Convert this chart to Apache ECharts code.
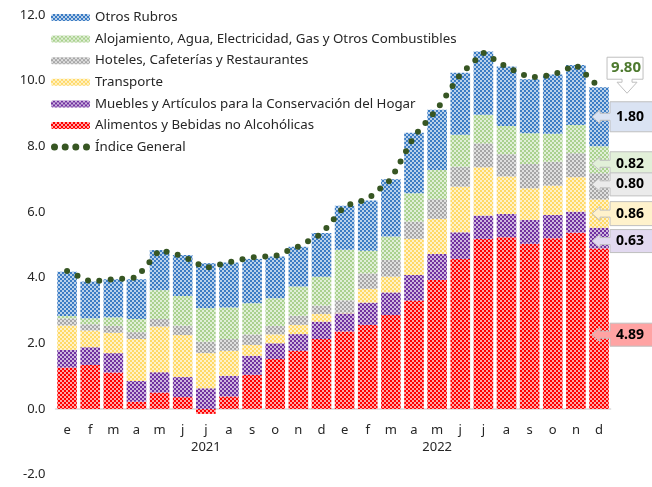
<!DOCTYPE html>
<html>
<head>
<meta charset="utf-8">
<script src="https://cdn.jsdelivr.net/npm/echarts@6/dist/echarts.min.js"></script>
<style>
html, body { margin: 0; padding: 0; background: #fff; }
#chart { width: 652px; height: 487px; }
</style>
</head>
<body>
<div id="chart"></div>
<script>
var meses = ['e', 'f', 'm', 'a', 'm', 'j', 'j', 'a', 's', 'o', 'n', 'd',
             'e', 'f', 'm', 'a', 'm', 'j', 'j', 'a', 's', 'o', 'n', 'd'];
var anios = { 6: '2021', 16: '2022' };
var yTicks = [-2, 0, 2, 4, 6, 8, 10, 12];

var alimentos = [1.26, 1.34, 1.11, 0.22, 0.50, 0.36, -0.15, 0.38, 1.04, 1.52, 1.77, 2.13,
                 2.36, 2.56, 2.86, 3.30, 3.93, 4.57, 5.18, 5.23, 5.03, 5.20, 5.37, 4.89];
var muebles = [0.54, 0.54, 0.59, 0.63, 0.62, 0.61, 0.63, 0.63, 0.58, 0.48, 0.51, 0.53,
               0.55, 0.68, 0.69, 0.78, 0.79, 0.81, 0.71, 0.71, 0.73, 0.71, 0.64, 0.63];
var transporte = [0.74, 0.51, 0.62, 1.28, 1.39, 1.28, 1.07, 0.76, 0.33, 0.27, 0.28, 0.23,
                  0.02, 0.42, 0.48, 1.10, 1.07, 1.39, 1.47, 1.14, 0.96, 0.89, 1.05, 0.86];
var hoteles = [0.22, 0.19, 0.21, 0.21, 0.23, 0.29, 0.35, 0.36, 0.32, 0.26, 0.28, 0.26,
               0.38, 0.47, 0.51, 0.53, 0.60, 0.61, 0.73, 0.68, 0.74, 0.73, 0.73, 0.80];
var alojamiento = [0.07, 0.18, 0.26, 0.40, 0.88, 0.90, 1.02, 0.96, 0.95, 0.84, 0.89, 0.88,
                   1.54, 0.69, 0.71, 0.86, 0.89, 0.97, 0.87, 0.86, 0.94, 0.85, 0.86, 0.82];
var otros = [1.35, 1.12, 1.16, 1.21, 1.22, 1.25, 1.37, 1.37, 1.35, 1.27, 1.21, 1.33,
             1.34, 1.53, 1.75, 1.84, 1.83, 1.89, 1.93, 1.81, 1.64, 1.81, 1.83, 1.80];
var indice = [4.20, 3.88, 3.95, 4.00, 4.84, 4.66, 4.29, 4.47, 4.62, 4.66, 4.95, 5.33,
              6.18, 6.39, 6.99, 8.30, 9.13, 10.19, 10.85, 10.42, 10.09, 10.17, 10.48, 9.80];

var fuente = "'Noto Sans', sans-serif";

// relleno a cuadros como en Excel
function cuadros(color) {
    var c = document.createElement('canvas');
    c.width = 4; c.height = 4;
    var ctx = c.getContext('2d');
    ctx.fillStyle = color;
    ctx.fillRect(0, 0, 4, 4);
    ctx.fillStyle = 'rgba(255,255,255,0.65)';
    ctx.fillRect(0, 0, 2, 2);
    ctx.fillRect(2, 2, 2, 2);
    return { image: c, repeat: 'repeat' };
}

function barra(nombre, datos, color) {
    return {
        name: nombre,
        type: 'bar',
        stack: 'total',
        barCategoryGap: '15%',
        data: datos,
        itemStyle: { color: cuadros(color) }
    };
}

var puntos = 'path://M0,3.5a3.5,3.5 0 1,0 7,0a3.5,3.5 0 1,0 -7,0z' +
    'M10.7,3.5a3.5,3.5 0 1,0 7,0a3.5,3.5 0 1,0 -7,0z' +
    'M21.3,3.5a3.5,3.5 0 1,0 7,0a3.5,3.5 0 1,0 -7,0z' +
    'M32,3.5a3.5,3.5 0 1,0 7,0a3.5,3.5 0 1,0 -7,0z';

var gTop = 15, gBottom = 12.4;
// el eje de categorías va sobre el cero: lo subimos desde el borde inferior
var alto = 487 - gTop - gBottom;
var subida = alto * (0 - yTicks[0]) / (yTicks[yTicks.length - 1] - yTicks[0]);

var myChart = echarts.init(document.getElementById('chart'));
myChart.setOption({
    animation: false,
    grid: { left: 55.5, right: 41.4, top: gTop, bottom: gBottom, outerBoundsMode: 'none', containLabel: false },
    legend: {
        orient: 'vertical',
        left: 46,
        top: 6,
        itemWidth: 39,
        itemHeight: 7,
        itemGap: 8.6,
        textStyle: { fontSize: 13.3, color: '#262626', fontFamily: fuente },
        data: ['Otros Rubros',
               'Alojamiento, Agua, Electricidad, Gas y Otros Combustibles',
               'Hoteles, Cafeterías y Restaurantes',
               'Transporte',
               'Muebles y Artículos para la Conservación del Hogar',
               'Alimentos y Bebidas no Alcohólicas',
               { name: 'Índice General', icon: puntos }]
    },
    xAxis: {
        type: 'category',
        data: meses,
        position: 'bottom',
        offset: -subida,
        axisTick: { show: false },
        axisLine: { onZero: false, lineStyle: { color: '#d9d9d9', width: 1.5 } },
        axisLabel: {
            interval: 0,
            margin: 12.5,
            fontSize: 13,
            lineHeight: 17,
            color: '#262626',
            fontFamily: fuente,
            formatter: function (v, i) { return anios[i] ? v + '\n' + anios[i] : v; }
        }
    },
    yAxis: {
        type: 'value',
        min: yTicks[0],
        max: yTicks[yTicks.length - 1],
        interval: 2,
        splitLine: { show: false },
        axisLine: { show: false },
        axisTick: { show: false },
        axisLabel: {
            margin: 10,
            fontSize: 13,
            color: '#262626',
            fontFamily: fuente,
            formatter: function (v) { return v.toFixed(1); }
        }
    },
    series: [
        barra('Alimentos y Bebidas no Alcohólicas', alimentos, '#ff0000'),
        barra('Muebles y Artículos para la Conservación del Hogar', muebles, '#7030a0'),
        barra('Transporte', transporte, '#ffd966'),
        barra('Hoteles, Cafeterías y Restaurantes', hoteles, '#a6a6a6'),
        barra('Alojamiento, Agua, Electricidad, Gas y Otros Combustibles', alojamiento, '#a9d18e'),
        barra('Otros Rubros', otros, '#3b7cc4'),
        {
            name: 'Índice General',
            type: 'line',
            data: indice,
            symbol: 'none',
            z: 10,
            lineStyle: { color: '#375623', width: 6, type: [0, 11.5], cap: 'round' },
            itemStyle: { color: '#375623' }
        }
    ]
});

// llamadas de dato para diciembre 2022
var ult = meses.length - 1;
function px(v) { return myChart.convertToPixel({ xAxisIndex: 0, yAxisIndex: 0 }, [ult, v]); }

var llamadas = [
    { datos: alimentos, fill: '#ffa3a3', dy: 6, h: 23 },
    { datos: muebles, fill: '#e2d9f0', dy: 3, h: 23 },
    { datos: transporte, fill: '#fff2cc', dy: 0, h: 24 },
    { datos: alojamiento, fill: '#e2f0d9', dy: 4, h: 24 },
    { datos: hoteles, fill: '#ebebeb', dy: -2, h: 23 },
    { datos: otros, fill: '#dae3f3', dy: 0, h: 30 }
];
var base = 0, centros = [];
[alimentos, muebles, transporte, hoteles, alojamiento, otros].forEach(function (s) {
    var v = s[ult];
    centros.push(base + v / 2);
    base += v;
});
var orden = [0, 1, 2, 4, 3, 5];
var graficos = [];
llamadas.forEach(function (c, k) {
    var p = px(centros[orden[k]]);
    var x = p[0], y = p[1] + c.dy, hh = c.h / 2;
    graficos.push({
        type: 'polygon', z: 100,
        shape: { points: [[x - 7, y], [x + 1, y - 7], [x + 1, y - 3.5], [x + 11, y - 3.5], [x + 11, y - hh],
                          [x + 62, y - hh], [x + 62, y + hh], [x + 11, y + hh], [x + 11, y + 3.5],
                          [x + 1, y + 3.5], [x + 1, y + 7]] },
        style: { fill: c.fill, stroke: '#bfbfbf', lineWidth: 1 }
    });
    graficos.push({
        type: 'text', z: 101, x: x + 31, y: y,
        style: { text: c.datos[ult].toFixed(2), font: 'bold 14px ' + fuente, fill: '#000',
                 align: 'center', verticalAlign: 'middle', textAlign: 'center', textVerticalAlign: 'middle' }
    });
});
var pi = px(indice[ult]);
var tx = pi[0] + 28, ty = pi[1] + 6;
graficos.push({
    type: 'polygon', z: 100,
    shape: { points: [[tx - 20, ty - 36], [tx + 16, ty - 36], [tx + 16, ty - 14], [tx + 5, ty - 14], [tx + 5, ty - 11],
                      [tx + 10, ty - 11], [tx, ty], [tx - 10, ty - 11], [tx - 5, ty - 11], [tx - 5, ty - 14], [tx - 20, ty - 14]] },
    style: { fill: '#ffffff', stroke: '#bfbfbf', lineWidth: 1 }
});
graficos.push({
    type: 'text', z: 101, x: tx - 1, y: ty - 25,
    style: { text: indice[ult].toFixed(2), font: 'bold 15px ' + fuente, fill: '#4e7a2f',
             align: 'center', verticalAlign: 'middle', textAlign: 'center', textVerticalAlign: 'middle' }
});
myChart.setOption({ graphic: graficos });
</script>
</body>
</html>
